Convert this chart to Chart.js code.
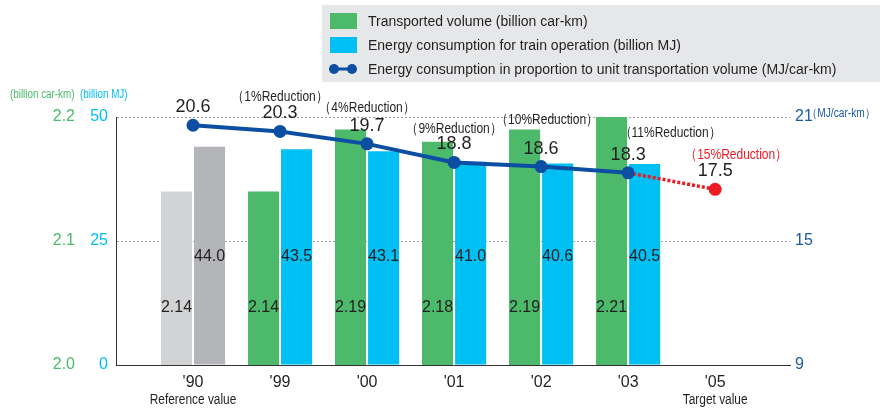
<!DOCTYPE html>
<html>
<head>
<meta charset="utf-8">
<script src="https://cdn.jsdelivr.net/npm/chart.js@4/dist/chart.umd.min.js"></script>
<style>
  html, body { margin: 0; padding: 0; background: #fff; }
  #wrap { width: 893px; height: 412px; position: relative; }
</style>
</head>
<body>
<div id="wrap"><canvas id="chart" width="893" height="412"></canvas></div>
<script>
// fiscal years and their captions
var years = ["'90", "'99", "'00", "'01", "'02", "'03", "'05"];
var notes = ['Reference value', '', '', '', '', '', 'Target value'];

// transported volume (billion car-km), '90 .. '03
var transported = [2.14, 2.14, 2.19, 2.18, 2.19, 2.21];
// energy consumption for train operation (billion MJ), '90 .. '03
var energy = [44.0, 43.5, 43.1, 41.0, 40.6, 40.5];
// energy per unit transportation volume (MJ/car-km), '90 .. '05 target
var unitEnergy = [20.6, 20.3, 19.7, 18.8, 18.6, 18.3, 17.5];
// reduction vs. '90 (%)
var reductions = [null, 1, 4, 9, 10, 11, 15];

var legendLabels = [
  'Transported volume (billion car-km)',
  'Energy consumption for train operation (billion MJ)',
  'Energy consumption in proportion to unit transportation volume (MJ/car-km)'
];

var colors = {
  green: '#4cb96b',
  cyan: '#00bff3',
  grayLight: '#d1d3d4',
  grayDark: '#b3b5b8',
  navy: '#0b4ea2',
  red: '#ec1c24',
  text: '#231f20',
  legendBg: '#e6e7e8',
  grid: '#9d9fa2',
  blueTick: '#1c5aa6'
};

var FONT = "'Liberation Sans', Arial, sans-serif";
Chart.defaults.font.family = FONT;

// nudges for the "(x%Reduction)" captions, in px
var noteShift = [[0, 0], [0, -35], [0, -36], [0, -34], [6, -47], [42, -40], [21, -34]];

function toXY(arr) {
  return arr.map(function (v, i) { return { x: i, y: v }; });
}

// horizontally squeezed text, for the small condensed captions
function narrowText(ctx, text, x, y, sx) {
  ctx.save();
  ctx.translate(x, y);
  ctx.scale(sx, 1);
  ctx.fillText(text, 0, 0);
  ctx.restore();
}

var barColorsG = transported.map(function (d, i) { return i === 0 ? colors.grayLight : colors.green; });
var barColorsC = energy.map(function (d, i) { return i === 0 ? colors.grayDark : colors.cyan; });
var last = unitEnergy.length - 1;

// legend box, unit captions and value labels
var decorations = {
  id: 'decorations',
  afterDraw: function (chart) {
    var ctx = chart.ctx;
    var area = chart.chartArea;
    ctx.save();

    // legend
    ctx.fillStyle = colors.legendBg;
    ctx.fillRect(322, 5, 558, 77);
    ctx.textBaseline = 'middle';
    ctx.textAlign = 'left';
    ctx.font = '14px ' + FONT;
    var rows = [21, 45, 69];
    ctx.fillStyle = colors.green;
    ctx.fillRect(330, rows[0] - 8, 27, 16);
    ctx.fillStyle = colors.cyan;
    ctx.fillRect(330, rows[1] - 8, 27, 16);
    ctx.strokeStyle = colors.navy;
    ctx.lineWidth = 3;
    ctx.beginPath();
    ctx.moveTo(334, rows[2]);
    ctx.lineTo(352, rows[2]);
    ctx.stroke();
    ctx.fillStyle = colors.navy;
    [334, 352].forEach(function (cx) {
      ctx.beginPath();
      ctx.arc(cx, rows[2], 5, 0, Math.PI * 2);
      ctx.fill();
    });
    ctx.fillStyle = colors.text;
    legendLabels.forEach(function (t, i) { ctx.fillText(t, 368, rows[i] + 1); });

    // unit captions
    ctx.font = '12px ' + FONT;
    ctx.fillStyle = colors.green;
    narrowText(ctx, '(billion car-km)', 10, 95, 0.82);
    ctx.fillStyle = colors.cyan;
    narrowText(ctx, '(billion MJ)', 80, 95, 0.82);
    ctx.fillStyle = colors.blueTick;
    narrowText(ctx, '\uff08MJ/car-km\uff09', 807, area.top - 3, 0.85);

    // notes under the year ticks
    var xs = chart.scales.x;
    ctx.font = '14px ' + FONT;
    ctx.fillStyle = colors.text;
    ctx.textAlign = 'center';
    notes.forEach(function (n, i) {
      if (n) { narrowText(ctx, n, xs.getPixelForValue(i), 400, 0.85); }
    });

    // bar values
    ctx.font = '16px ' + FONT;
    var metaG = chart.getDatasetMeta(1);
    var metaC = chart.getDatasetMeta(2);
    transported.forEach(function (v, i) {
      ctx.fillText(v.toFixed(2), metaG.data[i].x, area.bottom - 57);
    });
    energy.forEach(function (v, i) {
      ctx.fillText(v.toFixed(1), metaC.data[i].x, area.bottom - 108);
    });

    // line values and reduction captions
    var metaL = chart.getDatasetMeta(0);
    unitEnergy.forEach(function (v, i) {
      var p = metaL.data[i];
      ctx.font = '18px ' + FONT;
      ctx.fillStyle = colors.text;
      ctx.fillText(v.toFixed(1), p.x, p.y - 18);
      if (reductions[i] !== null) {
        ctx.font = '15px ' + FONT;
        ctx.fillStyle = i === last ? colors.red : colors.text;
        narrowText(ctx, '\uff08' + reductions[i] + '%Reduction\uff09', p.x + noteShift[i][0], p.y + noteShift[i][1], 0.8);
      }
    });
    ctx.restore();
  }
};

new Chart(document.getElementById('chart'), {
  type: 'bar',
  data: {
    datasets: [
      {
        type: 'line',
        label: legendLabels[2],
        data: toXY(unitEnergy),
        xAxisID: 'x',
        yAxisID: 'yR',
        order: 0,
        borderColor: colors.navy,
        borderWidth: 4,
        pointRadius: 6.5,
        pointBorderWidth: 0,
        pointBackgroundColor: unitEnergy.map(function (d, i) { return i === last ? colors.red : colors.navy; }),
        segment: {
          borderColor: function (c) { return c.p1DataIndex === last ? colors.red : colors.navy; },
          borderDash: function (c) { return c.p1DataIndex === last ? [3, 2] : undefined; },
          borderWidth: function (c) { return c.p1DataIndex === last ? 3.5 : 4; }
        },
        tension: 0
      },
      {
        label: legendLabels[0],
        data: toXY(transported),
        xAxisID: 'x',
        yAxisID: 'yG',
        order: 1,
        backgroundColor: barColorsG,
        categoryPercentage: 0.76,
        barPercentage: 0.94
      },
      {
        label: legendLabels[1],
        data: toXY(energy),
        xAxisID: 'x',
        yAxisID: 'yC',
        order: 1,
        backgroundColor: barColorsC,
        categoryPercentage: 0.76,
        barPercentage: 0.94
      }
    ]
  },
  options: {
    responsive: false,
    animation: false,
    events: [],
    layout: { padding: { top: 117, left: 0, right: 0, bottom: 0 } },
    plugins: { legend: { display: false }, tooltip: { enabled: false } },
    scales: {
      x: {
        type: 'linear',
        position: 'bottom',
        offset: false,
        min: -0.885,
        max: 6.86,
        grid: { display: false, drawTicks: false },
        border: { display: true, color: '#333', width: 1 },
        ticks: {
          stepSize: 1,
          includeBounds: false,
          autoSkip: false,
          maxRotation: 0,
          padding: 8,
          color: colors.text,
          font: { size: 16 },
          callback: function (v) { return years[v]; }
        },
        afterFit: function (s) { s.height = 47; }
      },
      yG: {
        position: 'left',
        weight: 2,
        min: 2.0,
        max: 2.2,
        grid: { display: false, drawTicks: false },
        border: { display: false },
        ticks: {
          stepSize: 0.1,
          padding: 5,
          color: colors.green,
          font: { size: 16 },
          callback: function (v) { return v.toFixed(1); }
        },
        afterFit: function (s) { s.width = 80; }
      },
      yC: {
        position: 'left',
        weight: 1,
        min: 0,
        max: 50,
        grid: {
          drawTicks: false,
          color: function (c) { return c.tick.value === 0 ? 'rgba(0,0,0,0)' : colors.grid; },
          lineWidth: 1
        },
        border: { display: true, color: '#333', width: 1, dash: [2, 2] },
        ticks: {
          stepSize: 25,
          padding: 8,
          color: colors.cyan,
          font: { size: 16 }
        },
        afterFit: function (s) { s.width = 36; }
      },
      yR: {
        position: 'right',
        min: 9,
        max: 21,
        grid: { display: false, drawTicks: false },
        border: { display: false },
        ticks: {
          stepSize: 6,
          padding: 5,
          color: colors.blueTick,
          font: { size: 16 }
        },
        afterFit: function (s) { s.width = 103; }
      }
    }
  },
  plugins: [decorations]
});
</script>
</body>
</html>
